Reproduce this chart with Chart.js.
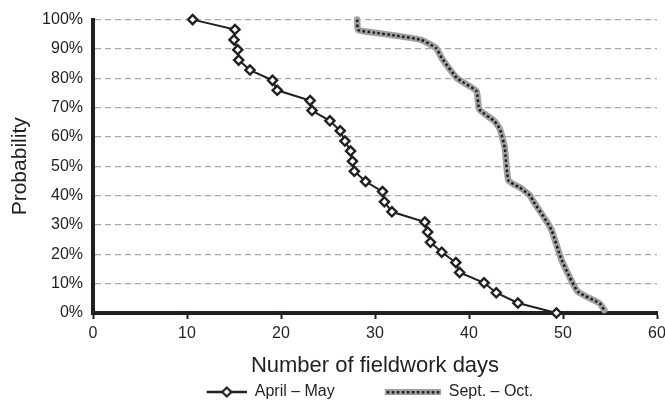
<!DOCTYPE html>
<html lang="en">
<head>
  <meta charset="UTF-8">
  <title>Probability of fieldwork days</title>
  <script src="https://cdn.jsdelivr.net/npm/chart.js"></script>
  <style>
    body {
      margin: 0;
      padding: 0;
      background-color: #fff;
    }
    #wrap {
      width: 665px;
      height: 400px;
    }
  </style>
</head>
<body>
  <div id="wrap">
    <canvas id="daysChart" width="665" height="400"></canvas>
  </div>

  <script>
    // values
    const aprilDays = [10.6, 15.1, 15.0, 15.4, 15.5, 16.7, 19.1, 19.6, 23.1, 23.3, 25.2, 26.3, 26.8, 27.4, 27.6,
                       27.8, 29.0, 30.8, 31.0, 31.8, 35.3, 35.6, 35.9, 37.1, 38.6, 39.0, 41.6, 42.9, 45.2, 49.3];
    const aprilProb = [100, 96.6, 93.1, 89.7, 86.2, 82.8, 79.3, 75.9, 72.4, 69.0, 65.5, 62.1, 58.6, 55.2, 51.7,
                       48.3, 44.8, 41.4, 37.9, 34.5, 31.0, 27.6, 24.1, 20.7, 17.2, 13.8, 10.3, 6.9, 3.4, 0];

    const septDays = [28.1, 28.2, 29.8, 32.3, 34.9, 36.5, 37.1, 38.7, 39.5, 40.8, 41.1, 42.7, 43.3, 43.8, 44.2,
                      45.4, 46.5, 46.8, 48.2, 48.8, 49.8, 50.7, 51.6, 53.9, 54.4];
    const septProb = [100, 96.5, 95.6, 94.5, 93.1, 90.3, 86.9, 80.1, 78.4, 75.6, 69.4, 65.4, 62.6, 56.4, 45.1,
                      42.8, 40.0, 38.3, 31.5, 28.1, 18.5, 12.3, 7.2, 3.3, 1.0];

    const seriesNames = ['April \u2013 May', 'Sept. \u2013 Oct.'];
    const xTicks = [0, 10, 20, 30, 40, 50, 60];
    const yTicks = [0, 10, 20, 30, 40, 50, 60, 70, 80, 90, 100];

    const ink = '#231f20';
    const FONT = '"Liberation Sans", Arial, Helvetica, sans-serif';

    function toPoints(xs, ys) {
      return xs.map((x, i) => ({ x: x, y: ys[i] }));
    }

    // legend icons (blank space on the left keeps the two entries apart)
    const ICON_W = 101;
    function aprilIcon() {
      const c = document.createElement('canvas');
      c.width = ICON_W; c.height = 14;
      const g = c.getContext('2d');
      g.strokeStyle = ink;
      g.lineWidth = 2.5;
      g.beginPath(); g.moveTo(ICON_W - 40, 7); g.lineTo(ICON_W, 7); g.stroke();
      const cx = ICON_W - 20;
      g.fillStyle = '#fff';
      g.lineWidth = 2.2;
      g.beginPath();
      g.moveTo(cx, 2.5); g.lineTo(cx + 4.5, 7); g.lineTo(cx, 11.5); g.lineTo(cx - 4.5, 7); g.closePath();
      g.fill(); g.stroke();
      return c;
    }
    function septIcon() {
      const c = document.createElement('canvas');
      c.width = ICON_W; c.height = 8;
      const g = c.getContext('2d');
      g.fillStyle = '#a0a0a0';
      g.fillRect(ICON_W - 56, 1, 56, 6);
      g.fillStyle = '#1a1a1a';
      for (let x = ICON_W - 54; x < ICON_W - 2; x += 5) {
        g.fillRect(x, 3, 2.5, 2.5);
      }
      return c;
    }
    const legendIcons = [aprilIcon(), septIcon()];

    const ctx = document.getElementById('daysChart');
    new Chart(ctx, {
      type: 'line',
      data: {
        datasets: [
          {
            label: seriesNames[0],
            data: toPoints(aprilDays, aprilProb),
            borderColor: ink,
            borderWidth: 2,
            pointStyle: 'rectRot',
            pointRadius: 4.6,
            pointBorderWidth: 2.4,
            pointBackgroundColor: '#fff',
            pointBorderColor: ink,
            tension: 0,
            clip: false
          },
          {
            label: 'dots',
            data: toPoints(septDays, septProb),
            borderColor: '#1a1a1a',
            borderWidth: 2.5,
            borderDash: [2.5, 2.5],
            pointRadius: 0,
            tension: 0.15,
            clip: false
          },
          {
            label: seriesNames[1],
            data: toPoints(septDays, septProb),
            borderColor: '#a0a0a0',
            borderWidth: 6.5,
            borderCapStyle: 'round',
            borderJoinStyle: 'round',
            pointRadius: 0,
            tension: 0.15,
            clip: false
          }
        ]
      },
      options: {
        responsive: false,
        animation: false,
        layout: {
          padding: { left: 22, right: 8, top: 18, bottom: -10 }
        },
        scales: {
          x: {
            type: 'linear',
            min: 0,
            max: 60,
            afterBuildTicks: (scale) => { scale.ticks = xTicks.map(v => ({ value: v })); },
            afterFit: (scale) => {
              scale.height = 66;
              scale.paddingLeft = 0;
              scale.paddingRight = 0;
            },
            ticks: {
              color: ink,
              padding: 5,
              font: { family: FONT, size: 16 }
            },
            grid: {
              drawOnChartArea: false,
              drawTicks: true,
              tickLength: 6,
              tickColor: ink,
              tickWidth: 2
            },
            border: { display: true, color: ink, width: 4 },
            title: {
              display: true,
              text: 'Number of fieldwork days',
              color: ink,
              padding: { top: 5, bottom: 0 },
              font: { family: FONT, size: 22 }
            }
          },
          y: {
            min: 0,
            max: 100,
            afterBuildTicks: (scale) => { scale.ticks = yTicks.map(v => ({ value: v })); },
            afterFit: (scale) => { scale.width = 71; },
            ticks: {
              color: ink,
              padding: 10,
              font: { family: FONT, size: 16 },
              callback: (v) => v + '%'
            },
            grid: {
              color: '#a8a8a8',
              lineWidth: 1.2,
              drawTicks: false
            },
            border: { display: true, color: ink, width: 4, dash: [6, 4] },
            title: {
              display: true,
              text: 'Probability',
              color: ink,
              padding: { top: -14.6, bottom: 0 },
              font: { family: FONT, size: 21 }
            }
          }
        },
        plugins: {
          tooltip: { enabled: false },
          legend: {
            position: 'bottom',
            labels: {
              usePointStyle: true,
              pointStyleWidth: ICON_W,
              padding: 5,
              color: ink,
              font: { family: FONT, size: 16 },
              generateLabels: (chart) => {
                const items = Chart.defaults.plugins.legend.labels.generateLabels(chart)
                  .filter(item => item.text !== 'dots');
                items.forEach((item, i) => {
                  item.pointStyle = legendIcons[i];
                  item.rotation = 0;
                });
                return items;
              }
            }
          }
        }
      }
    });
  </script>
</body>
</html>
